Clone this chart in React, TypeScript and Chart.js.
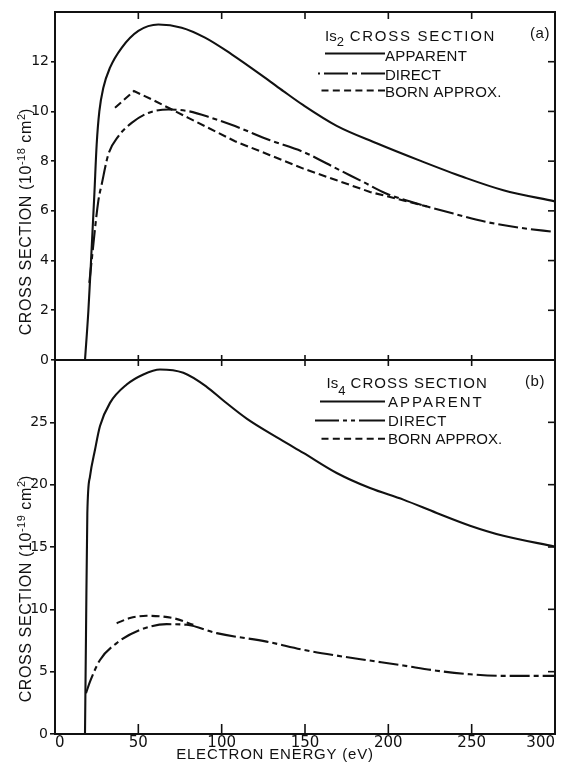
import React, { useEffect, useRef } from 'react';
import { Chart, registerables } from 'chart.js';

Chart.register(...registerables);

// ---------- Data: panel (a) Is2 cross section (10^-18 cm^2) ----------
const aApparentE = [18, 20, 21.6, 23.6, 25, 26.6, 29, 33, 40, 50, 62, 76, 90, 106, 126.8, 137, 149, 169, 193, 219, 245, 269, 300];
const aApparentV = [0, 1.95, 3.96, 6.65, 8.67, 10.0, 10.95, 11.76, 12.56, 13.24, 13.5, 13.37, 12.97, 12.3, 11.32, 10.82, 10.25, 9.42, 8.72, 8.02, 7.36, 6.83, 6.38];

const aDirectE = [20.6, 22, 26, 28, 32, 38, 46, 56, 68, 80, 94, 108, 129, 149, 169, 185, 199, 219, 239, 259, 279, 300];
const aDirectV = [3.1, 4.0, 6.4, 7.06, 8.27, 9.0, 9.54, 9.94, 10.08, 10.01, 9.74, 9.41, 8.84, 8.37, 7.7, 7.16, 6.69, 6.26, 5.89, 5.55, 5.32, 5.15];

const aBornE = [36, 47.4, 60, 80, 108, 129, 149, 169, 189, 209, 223];
const aBornV = [10.15, 10.82, 10.42, 9.74, 8.8, 8.24, 7.7, 7.23, 6.76, 6.42, 6.18];

// ---------- Data: panel (b) Is4 cross section (10^-19 cm^2) ----------
const bApparentE = [18, 18.6, 19.4, 21, 24, 27, 33, 43, 53, 63, 77, 91, 101, 115, 135, 149, 169, 189, 209, 229, 249, 269, 300];
const bApparentV = [0, 8, 17.7, 20.67, 22.8, 24.7, 26.56, 28.03, 28.84, 29.24, 28.97, 27.85, 26.75, 25.3, 23.65, 22.55, 20.94, 19.73, 18.8, 17.73, 16.71, 15.9, 15.04];

const bDirectE = [18.6, 21, 27, 37, 51, 67, 79, 97, 127, 149, 169, 189, 209, 229, 249, 269, 300];
const bDirectV = [3.27, 4.2, 5.94, 7.29, 8.35, 8.81, 8.76, 8.09, 7.41, 6.75, 6.29, 5.89, 5.49, 5.08, 4.79, 4.66, 4.66];

const bBornE = [37, 45, 55, 71, 83];
const bBornV = [8.89, 9.3, 9.48, 9.29, 8.76];

// ---------- Axes ----------
const xTickValues = [0, 50, 100, 150, 200, 250, 300];
const aYTickValues = [0, 2, 4, 6, 8, 10, 12];
const bYTickValues = [0, 5, 10, 15, 20, 25];
const aYMax = 14;
const bYMax = 30;

const seriesLabels = ['APPARENT', 'DIRECT', 'BORN APPROX.'];

const INK = '#111111';
const DIRECT_DASH = [20, 4, 5, 4];
const BORN_DASH = [8, 4];
const SANS = '"Liberation Sans", Arial, sans-serif';
const TICKFONT = '"DejaVu Sans", sans-serif';

type Run = { text: string; size: number; dy?: number; ls?: number };

function pts(xs: number[], ys: number[]) {
  return xs.map((x, i) => ({ x, y: ys[i] }));
}

function drawRuns(ctx: CanvasRenderingContext2D, runs: Run[], x: number, y: number, align: 'left' | 'center', rotate = false) {
  ctx.save();
  ctx.translate(x, y);
  if (rotate) ctx.rotate(-Math.PI / 2);
  ctx.textBaseline = 'alphabetic';
  ctx.textAlign = 'left';
  ctx.fillStyle = INK;
  const widths = runs.map((r) => {
    ctx.font = `${r.size}px ${SANS}`;
    (ctx as any).letterSpacing = `${r.ls ?? 0}px`;
    return ctx.measureText(r.text).width;
  });
  const total = widths.reduce((a, b) => a + b, 0);
  let cx = align === 'center' ? -total / 2 : 0;
  runs.forEach((r, i) => {
    ctx.font = `${r.size}px ${SANS}`;
    (ctx as any).letterSpacing = `${r.ls ?? 0}px`;
    ctx.fillText(r.text, cx, r.dy ?? 0);
    cx += widths[i];
  });
  ctx.restore();
}

type LegendRow = { x1: number; x2: number; y: number; dash: number[]; tx: number; ty: number; ls: number };
type PanelDeco = {
  yTicks: number[];
  topTick: number;
  bottomTick: number;
  title: { x: number; y: number; sub: string; subDy: number; ls: number };
  tag: { text: string; x: number; y: number };
  rows: LegendRow[];
  yTitle: { x: number; y: number; exp: string };
  xTitle?: { x: number; y: number };
};

function decoPlugin(d: PanelDeco) {
  return {
    id: 'deco',
    afterDraw(chart: any) {
      const { ctx, chartArea: ca, scales } = chart;
      const xs = scales.x;
      const ys = scales.y;
      const line = (x1: number, y1: number, x2: number, y2: number) => {
        ctx.beginPath();
        ctx.moveTo(x1, y1);
        ctx.lineTo(x2, y2);
        ctx.stroke();
      };
      ctx.save();
      ctx.strokeStyle = INK;
      ctx.lineWidth = 2;
      ctx.setLineDash([]);
      ctx.strokeRect(ca.left, ca.top, ca.right - ca.left, ca.bottom - ca.top);
      ctx.lineWidth = 1.6;
      for (const t of xTickValues) {
        if (t <= xs.min || t >= xs.max) continue;
        const px = xs.getPixelForValue(t);
        line(px, ca.top, px, ca.top + d.topTick);
        line(px, ca.bottom, px, ca.bottom - d.bottomTick);
      }
      for (const t of d.yTicks) {
        if (t <= ys.min) continue;
        const py = ys.getPixelForValue(t);
        line(ca.right, py, ca.right - 7, py);
      }
      // legend
      drawRuns(ctx, [{ text: 'Is', size: 15 }, { text: d.title.sub, size: 13, dy: d.title.subDy }, { text: ' CROSS SECTION', size: 15, ls: d.title.ls }], d.title.x, d.title.y, 'left');
      drawRuns(ctx, [{ text: d.tag.text, size: 15, ls: 0.5 }], d.tag.x, d.tag.y, 'center');
      d.rows.forEach((r, i) => {
        ctx.save();
        ctx.strokeStyle = INK;
        ctx.lineWidth = 2;
        ctx.setLineDash(r.dash);
        // drawn from the text side outward so the pattern meets the label with a full dash
        line(r.x2, r.y, r.x1, r.y);
        ctx.restore();
        drawRuns(ctx, [{ text: seriesLabels[i], size: 15, ls: r.ls }], r.tx, r.ty, 'left');
      });
      // y title
      drawRuns(
        ctx,
        [
          { text: 'CROSS SECTION (10', size: 16, ls: 0.6 },
          { text: d.yTitle.exp, size: 11, dy: -6.5, ls: 0.5 },
          { text: ' cm', size: 16, ls: 0.6 },
          { text: '2', size: 11, dy: -6.5 },
          { text: ')', size: 16 },
        ],
        d.yTitle.x,
        d.yTitle.y,
        'center',
        true
      );
      if (d.xTitle) {
        drawRuns(ctx, [{ text: 'ELECTRON ENERGY (eV)', size: 15, ls: 0.8 }], d.xTitle.x, d.xTitle.y, 'center');
      }
      ctx.restore();
    },
  };
}

function datasets(appE: number[], appV: number[], dirE: number[], dirV: number[], bornE: number[], bornV: number[], bornSmooth: boolean) {
  const base = { borderColor: INK, borderWidth: 2.1, pointRadius: 0, fill: false };
  return [
    { ...base, label: seriesLabels[0], data: pts(appE, appV), cubicInterpolationMode: 'monotone' },
    { ...base, label: seriesLabels[1], data: pts(dirE, dirV), borderDash: DIRECT_DASH, cubicInterpolationMode: 'monotone' },
    bornSmooth
      ? { ...base, label: seriesLabels[2], data: pts(bornE, bornV), borderDash: BORN_DASH, cubicInterpolationMode: 'monotone' }
      : { ...base, label: seriesLabels[2], data: pts(bornE, bornV), borderDash: BORN_DASH, tension: 0 },
  ];
}

function yScale(max: number, step: number, tickLen: number) {
  return {
    type: 'linear',
    min: 0,
    max,
    afterFit: (s: any) => {
      s.width = 55;
    },
    ticks: {
      stepSize: step,
      callback: (v: any) => (v === max ? null : String(v)),
      font: { family: TICKFONT, size: 14 },
      color: INK,
      padding: 2,
    },
    grid: { drawOnChartArea: false, drawTicks: true, tickLength: tickLen, color: INK, lineWidth: 1.6 },
    border: { display: true, color: INK, width: 2 },
  };
}

export default function App() {
  const refA = useRef<HTMLCanvasElement>(null);
  const refB = useRef<HTMLCanvasElement>(null);

  useEffect(() => {
    const chartA = new Chart(refA.current as HTMLCanvasElement, {
      type: 'line',
      data: { datasets: datasets(aApparentE, aApparentV, aDirectE, aDirectV, aBornE, aBornV, false) as any },
      options: {
        animation: false,
        responsive: false,
        layout: { padding: { top: 12, right: 7, bottom: 405, left: 0 } },
        plugins: { legend: { display: false }, tooltip: { enabled: false } },
        scales: {
          x: { type: 'linear', min: 0, max: 300, display: false },
          y: yScale(aYMax, 2, 4) as any,
        },
      },
      plugins: [
        decoPlugin({
          yTicks: aYTickValues,
          topTick: 7,
          bottomTick: 5,
          title: { x: 325, y: 40.5, sub: '2', subDy: 5, ls: 1.7 },
          tag: { text: '(a)', x: 540, y: 38 },
          rows: [
            { x1: 325, x2: 385, y: 53.5, dash: [], tx: 385, ty: 60.5, ls: 0.3 },
            { x1: 318, x2: 385, y: 73.5, dash: [24, 4, 5, 4], tx: 385, ty: 79.5, ls: 0 },
            { x1: 318, x2: 385, y: 90.5, dash: [7, 4.3], tx: 385, ty: 97, ls: 0.2 },
          ],
          yTitle: { x: 31, y: 222, exp: '-18' },
        }) as any,
      ],
    });

    const chartB = new Chart(refB.current as HTMLCanvasElement, {
      type: 'line',
      data: { datasets: datasets(bApparentE, bApparentV, bDirectE, bDirectV, bBornE, bBornV, true) as any },
      options: {
        animation: false,
        responsive: false,
        layout: { padding: { top: 360, right: 7, bottom: 0, left: 0 } },
        plugins: { legend: { display: false }, tooltip: { enabled: false } },
        scales: {
          x: {
            type: 'linear',
            min: 0,
            max: 300,
            afterFit: (s: any) => {
              s.height = 31;
            },
            ticks: {
              stepSize: 50,
              align: 'inner',
              maxRotation: 0,
              font: { family: TICKFONT, size: 15 },
              color: INK,
              padding: 0,
            },
            grid: { drawOnChartArea: false, drawTicks: false, color: INK },
            border: { display: true, color: INK, width: 2 },
          } as any,
          y: yScale(bYMax, 5, 5) as any,
        },
      },
      plugins: [
        decoPlugin({
          yTicks: bYTickValues,
          topTick: 6,
          bottomTick: 10,
          title: { x: 326.5, y: 388, sub: '4', subDy: 7, ls: 1 },
          tag: { text: '(b)', x: 535, y: 386 },
          rows: [
            { x1: 320, x2: 385, y: 401.5, dash: [], tx: 388, ty: 407.3, ls: 2 },
            { x1: 315, x2: 385, y: 420.5, dash: [26, 4, 4, 4, 4, 4], tx: 388, ty: 426.3, ls: 0.5 },
            { x1: 320, x2: 385, y: 438.7, dash: [7, 4.3], tx: 388, ty: 444, ls: 0 },
          ],
          yTitle: { x: 31, y: 589, exp: '-19' },
          xTitle: { x: 275, y: 759 },
        }) as any,
      ],
    });

    return () => {
      chartA.destroy();
      chartB.destroy();
    };
  }, []);

  const canvasStyle: React.CSSProperties = { position: 'absolute', left: 0, top: 0, width: 562, height: 765 };
  return (
    <div style={{ position: 'absolute', left: 0, top: 0, width: 562, height: 765, background: '#ffffff' }}>
      <canvas ref={refA} width={562} height={765} style={canvasStyle} />
      <canvas ref={refB} width={562} height={765} style={canvasStyle} />
    </div>
  );
}
